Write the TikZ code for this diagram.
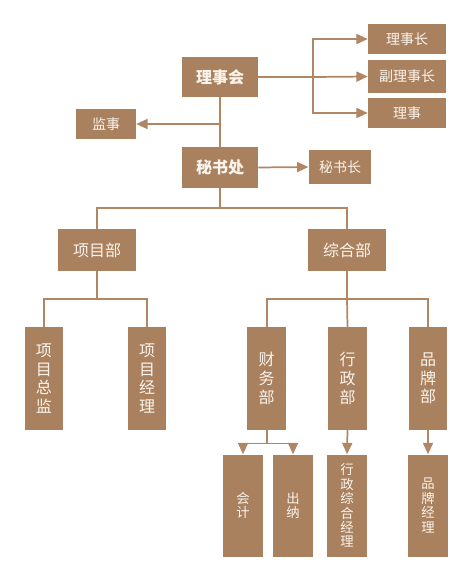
\documentclass[tikz,border=0pt]{standalone}
\usepackage{fontspec}
\setmainfont{Noto Sans CJK SC}
\usetikzlibrary{arrows.meta,positioning}

\definecolor{boxbrown}{RGB}{170,129,95}
\definecolor{linebrown}{RGB}{176,134,100}
\definecolor{boxtext}{RGB}{250,244,236}

\begin{document}
\begin{tikzpicture}[x=0.75pt, y=-0.75pt, >={Triangle[length=8.5pt,width=7.5pt]},
    box/.style={fill=boxbrown, text=boxtext, inner sep=0pt, align=center},
    headbox/.style={box, minimum width=57pt, minimum height=30pt, font=\fontsize{12}{14}\selectfont\bfseries},
    postbox/.style={box, minimum width=58.5pt, minimum height=23pt, font=\fontsize{10.5}{12}\selectfont},
    deptbox/.style={box, minimum width=58pt, minimum height=31pt, font=\fontsize{12}{14}\selectfont},
    vbox/.style={box, minimum width=29pt, minimum height=77pt, font=\fontsize{12}{14}\selectfont},
    lowbox/.style={box, minimum width=29.5pt, minimum height=76.5pt, font=\fontsize{10}{10.8}\selectfont},
    link/.style={draw=linebrown, line width=1.3pt}]
    \useasboundingbox (0,0) rectangle (472,581);
    % top level
    \node[headbox] (lsh) at (220,77) {理事会};
    \node[postbox] (lsz) at (407,39) {理事长};
    \node[postbox, minimum height=24.5pt] (fls) at (407,76.5) {副理事长};
    \node[postbox] (ls) at (407,113) {理事};
    \node[postbox, minimum width=45pt] (js) at (106,124) {监事};
    \node[headbox] (msc) at (220,167.5) {秘书处};
    \node[postbox, minimum width=47pt, minimum height=25.5pt] (msz) at (340,167) {秘书长};
    % departments
    \node[deptbox] (xmb) at (97,250) {项目部};
    \node[deptbox] (zhb) at (347,250) {综合部};
    \node[vbox] (xmzj) at (44,378.5) {项\\目\\总\\监};
    \node[vbox] (xmjl) at (147,378.5) {项\\目\\经\\理};
    \node[vbox] (cwb) at (266.7,378.5) {财\\务\\部};
    \node[vbox] (xzb) at (347.5,378.5) {行\\政\\部};
    \node[vbox] (ppb) at (428,378.5) {品\\牌\\部};
    % staff
    \node[lowbox] (kj) at (243,505.5) {会\\计};
    \node[lowbox] (cn) at (293,505.5) {出\\纳};
    \node[lowbox] (xzzh) at (347,505.5) {行\\政\\综\\合\\经\\理};
    \node[lowbox] (ppjl) at (428,505.5) {品\\牌\\经\\理};

    % connectors
    \draw[link] (lsh.east) -- ++(55,0) coordinate (b1);
    \draw[link, ->] (b1) |- (lsz.west);
    \draw[link, ->] (b1) -- (fls.west);
    \draw[link, ->] (b1) |- (ls.west);
    \draw[link] (lsh.south) -- (msc.north);
    \draw[link, ->] (lsh.south |- js.east) -- (js.east);
    \draw[link, ->] (msc.east) -- (msz.west);
    \draw[link] (msc.south) -- ++(0,20.5) coordinate (m1);
    \draw[link] (xmb.north) |- (m1) -| (zhb.north);
    \draw[link] (xmb.south) -- ++(0,27.7) coordinate (x1);
    \draw[link] (xmzj.north) |- (x1) -| (xmjl.north);
    \draw[link] (zhb.south) -- ++(0,27.7) coordinate (z1);
    \draw[link] (cwb.north) |- (z1) -| (ppb.north);
    \draw[link] (z1) -- (xzb.north);
    \draw[link] (cwb.south) -- ++(0,13.4) coordinate (c1);
    \draw[link, ->] (c1) -| (kj.north);
    \draw[link, ->] (c1) -| (cn.north);
    \draw[link, ->] (xzb.south) -- (xzzh.north);
    \draw[link, ->] (ppb.south) -- (ppjl.north);
\end{tikzpicture}
\end{document}
